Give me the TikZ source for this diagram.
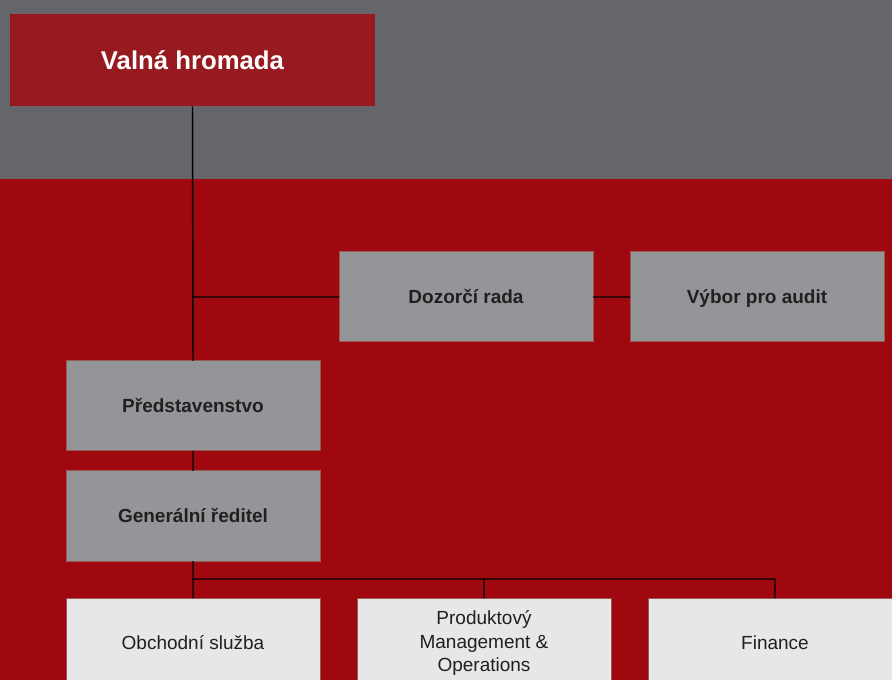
\documentclass[tikz,border=0pt]{standalone}
\usepackage{fontspec}
\setmainfont{Liberation Sans}
\usepackage{xcolor}
\usepackage{tikz}
\usetikzlibrary{positioning}
\definecolor{bandgrey}{RGB}{100,102,106}
\definecolor{bgred}{RGB}{160,8,16}
\definecolor{topred}{RGB}{150,26,31}
\definecolor{boxgrey}{RGB}{147,149,152}
\definecolor{boxlight}{RGB}{230,231,232}
\definecolor{boxedge}{RGB}{150,92,82}
\definecolor{inkdark}{RGB}{35,31,32}
\tikzset{
    orgbox/.style={
      rectangle,
      inner sep=0pt, outer sep=0pt,
      minimum width=190.5pt, %box width
      minimum height=67.5pt, %box height
      align=center,
      draw=boxedge, line width=0.75pt,
      text=inkdark,
    },
    board/.style={
      orgbox,
      fill=boxgrey,
      text height=13.3pt, text depth=3.1pt, %same baseline for all
      font=\fontsize{14.25}{17.5}\selectfont\bfseries,
    },
    unit/.style={
      orgbox,
      fill=boxlight,
      font=\fontsize{14.25}{17.6}\selectfont,
    },
    link/.style={
      draw=black,
      line width=1.1pt, %connector lines
    }
  }

\begin{document}
\begin{tikzpicture}[x=0.75pt, y=-0.75pt]
          \clip (0,0) rectangle (892,680);
          \fill[bandgrey] (0,0) rectangle (892,179);
          \fill[bgred] (0,179) rectangle (892,680);

          \node[rectangle, fill=topred, minimum width=273.75pt, minimum height=69pt, inner sep=0pt,
                text=white, font=\fontsize{19.3}{23}\selectfont\bfseries] (valna) at (192.5,60) {Valná hromada};
          \node[board] (dozorci) at (466,297) {Dozorčí rada};
          \node[board, right=27.75pt of dozorci] (audit) {Výbor pro audit};
          \node[board] (pred) at (193,406) {Představenstvo};
          \node[board, below=15pt of pred] (gen) {Generální ředitel};
          \node[unit] (obch) at (193,643) {Obchodní služba};
          \node[unit, right=27.75pt of obch] (prod) {Produktový\\Management \&\\Operations};
          \node[unit, right=27.75pt of prod] (fin) {Finance};
          \coordinate (bus) at (193,579);

          \path[link]
          (valna.south) -- (pred.north)
          (dozorci.west) -- (dozorci.west -| pred.north)
          (dozorci.east) -- (audit.west)
          (pred.south) -- (gen.north)
          (gen.south) -- (obch.north)
          (bus) -| (prod.north)
          (bus) -| (fin.north);
        \end{tikzpicture}
\end{document}
